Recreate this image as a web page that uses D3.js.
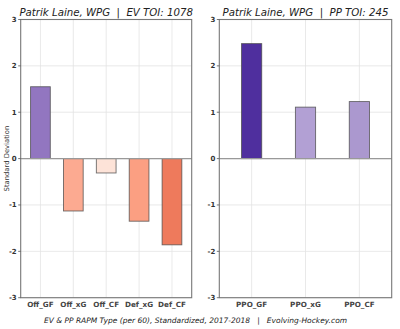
<!DOCTYPE html>
<html>
<head>
<meta charset="utf-8">
<script src="https://cdn.jsdelivr.net/npm/d3@7.9.0/dist/d3.min.js"></script>
<style>
  body { margin: 0; background: #fff; }
  svg { display: block; font-family: "DejaVu Sans", sans-serif; }
</style>
</head>
<body>
<svg id="chart" width="400" height="329"></svg>
<script>
// data
const evCategories = ["Off_GF", "Off_xG", "Off_CF", "Def_xG", "Def_CF"];
const evValues = [1.55, -1.13, -0.31, -1.35, -1.86];
const evColors = ["#9276c0", "#fcaa91", "#fde3d8", "#fb9f82", "#ee7a5c"];

const ppCategories = ["PPO_GF", "PPO_xG", "PPO_CF"];
const ppValues = [2.48, 1.11, 1.23];
const ppColors = ["#4f2f9e", "#b2a0d4", "#ab98cf"];

const yTicks = [-3, -2, -1, 0, 1, 2, 3];
const evTitle = "Patrik Laine, WPG  |  EV TOI: 1078";
const ppTitle = "Patrik Laine, WPG  |  PP TOI: 245";
const caption = "EV & PP RAPM Type (per 60), Standardized, 2017-2018   |   Evolving-Hockey.com";

const svg = d3.select("#chart");
const plotTop = 19.5, plotBottom = 297.7;
const y = d3.scaleLinear().domain([-3, 3]).range([plotBottom, plotTop]);

function drawPanel(left, right, cats, vals, colors, barWidth, title) {
    const g = svg.append("g");
    const x = d3.scaleLinear().domain([-0.6, cats.length - 0.4]).range([left, right]);

    // grid
    g.selectAll(".vgrid").data(cats).enter().append("line")
        .attr("x1", (d, i) => x(i)).attr("x2", (d, i) => x(i))
        .attr("y1", plotTop).attr("y2", plotBottom)
        .attr("stroke", "#e3e3e3").attr("stroke-width", 0.8);
    g.selectAll(".hgrid").data(yTicks).enter().append("line")
        .attr("x1", left).attr("x2", right)
        .attr("y1", d => y(d)).attr("y2", d => y(d))
        .attr("stroke", "#e3e3e3").attr("stroke-width", 0.8);

    // bars
    g.selectAll(".bar").data(vals).enter().append("rect")
        .attr("x", (d, i) => x(i - barWidth / 2))
        .attr("width", (d, i) => x(i + barWidth / 2) - x(i - barWidth / 2))
        .attr("y", d => y(Math.max(0, d)))
        .attr("height", d => Math.abs(y(d) - y(0)))
        .attr("fill", (d, i) => colors[i])
        .attr("stroke", "#4a4a4a").attr("stroke-opacity", 0.8).attr("stroke-width", 0.9);

    // zero line
    g.append("line")
        .attr("x1", left).attr("x2", right)
        .attr("y1", y(0)).attr("y2", y(0))
        .attr("stroke", "#999").attr("stroke-width", 1.3);

    // frame
    g.append("rect")
        .attr("x", left).attr("y", plotTop)
        .attr("width", right - left).attr("height", plotBottom - plotTop)
        .attr("fill", "none").attr("stroke", "#777").attr("stroke-width", 1.1);

    // y ticks
    g.selectAll(".ytick").data(yTicks).enter().append("line")
        .attr("x1", left - 2.5).attr("x2", left)
        .attr("y1", d => y(d)).attr("y2", d => y(d))
        .attr("stroke", "#555").attr("stroke-width", 0.8);
    g.selectAll(".ylab").data(yTicks).enter().append("text")
        .attr("x", left - 4).attr("y", d => y(d) + 2.5)
        .attr("text-anchor", "end").attr("font-size", 7).attr("font-weight", "bold")
        .attr("fill", "#333").text(d => d);

    // x labels
    g.selectAll(".xlab").data(cats).enter().append("text")
        .attr("x", (d, i) => x(i)).attr("y", plotBottom + 9.5)
        .attr("text-anchor", "middle").attr("font-size", 7.2).attr("font-weight", "bold")
        .attr("fill", "#444").text(d => d);

    // title
    g.append("text")
        .attr("x", (left + right) / 2).attr("y", 15.5)
        .attr("text-anchor", "middle").attr("font-size", 10.2).attr("font-style", "italic")
        .attr("fill", "#222").style("white-space", "pre")
        .text(title);
}

drawPanel(20.7, 191.7, evCategories, evValues, evColors, 0.6, evTitle);
drawPanel(219.3, 391.7, ppCategories, ppValues, ppColors, 0.375, ppTitle);

// y axis label
svg.append("text")
    .attr("transform", `translate(8.8,${y(0)}) rotate(-90)`)
    .attr("text-anchor", "middle").attr("font-size", 6.8).attr("fill", "#333")
    .text("Standard Deviation");

// caption
svg.append("text")
    .attr("x", 195.5).attr("y", 323)
    .attr("text-anchor", "middle").attr("font-size", 7.5).attr("font-style", "italic")
    .attr("fill", "#222").style("white-space", "pre")
    .text(caption);
</script>
</body>
</html>
